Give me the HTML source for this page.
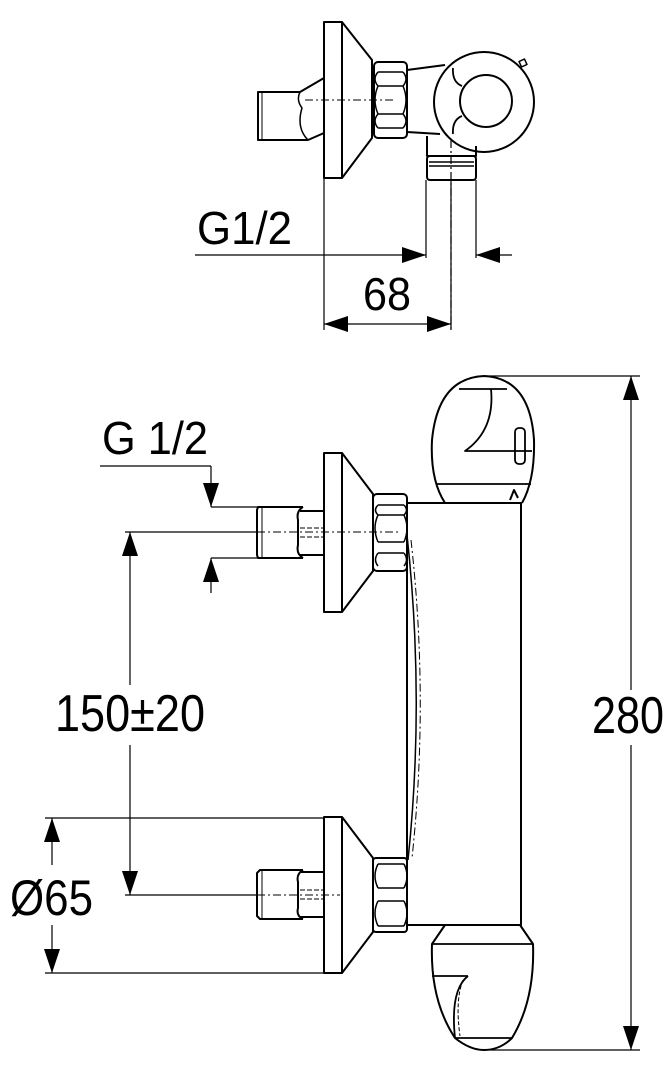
<!DOCTYPE html>
<html><head><meta charset="utf-8"><style>
html,body{margin:0;padding:0;background:#fff;}
svg{display:block;}
text{font-family:"Liberation Sans",Arial,sans-serif;fill:#000;}
</style></head><body>
<svg width="671" height="1080" viewBox="0 0 671 1080" xmlns="http://www.w3.org/2000/svg">
<defs>
<marker id="a" viewBox="0 0 24 16" refX="24" refY="8" markerWidth="24" markerHeight="16" orient="auto-start-reverse" markerUnits="userSpaceOnUse"><path d="M0,0 L24,8 L0,16 Z" fill="#000"/></marker>
</defs>
<g fill="none" stroke="#000" stroke-width="2" stroke-linejoin="round">
<rect x="324" y="22" width="18" height="156"/>
<path d="M342,22 L372,60 L372,138 L342,178"/>
<line x1="342" y1="22" x2="342" y2="178" stroke-width="1" stroke-dasharray="8,3,2,3"/>
<path d="M324,78 L300,92 L258,92 L258,140 L308,140 L324,133"/>
<line x1="262" y1="92" x2="262" y2="140" stroke-width="1"/>
<path d="M300,92 Q296,100 302,108 Q296,128 308,140" stroke-width="1.5"/>
<line x1="305" y1="100" x2="395" y2="100" stroke-width="1" stroke-dasharray="8,3,2,3"/>
<rect x="374" y="62" width="33" height="76" rx="4"/>
<path d="M378,72 L403,72 M378,86 L403,86 M378,114 L403,114 M378,128 L403,128 M378,72 Q372,79 378,86 M403,72 Q409,79 403,86 M378,86 Q372,100 378,114 M403,86 Q409,100 403,114 M378,114 Q372,121 378,128 M403,114 Q409,121 403,128" stroke-width="1.5"/>
<path d="M407,70 L445,65 M407,132 L440,134"/>
<circle cx="484" cy="102" r="50"/>
<circle cx="486" cy="101" r="26"/>
<path d="M453,68 Q452,82 462,86 M453,134 Q452,120 462,116" stroke-width="1.8"/>
<rect x="520" y="60" width="6" height="6" stroke-width="1.5" transform="rotate(-25 523 63)"/>
<path d="M427,136 L427,156 L476,156 L476,146"/>
<rect x="427" y="156" width="49" height="24" rx="3"/>
<line x1="429" y1="162" x2="474" y2="162" stroke-width="1.5"/>
<line x1="429" y1="166" x2="474" y2="166" stroke-width="1.5"/>
<g stroke-width="1.2">
<line x1="324" y1="178" x2="324" y2="330"/>
<line x1="426" y1="180" x2="426" y2="258"/>
<line x1="476" y1="180" x2="476" y2="258"/>
<line x1="451" y1="140" x2="451" y2="330" stroke-dasharray="8,3,2,3"/>
<line x1="451" y1="180" x2="451" y2="330"/>
<line x1="195" y1="255" x2="426" y2="255" marker-end="url(#a)"/>
<line x1="512" y1="255" x2="476" y2="255" marker-end="url(#a)"/>
<line x1="324" y1="324" x2="451" y2="324" marker-start="url(#a)" marker-end="url(#a)"/>
</g>
<rect x="407" y="503" width="114" height="422"/>
<path d="M445,503 Q430,480 432,440 Q438,378 484,376 Q530,378 534,440 Q535,480 522,503"/>
<line x1="436" y1="484" x2="531" y2="484" stroke-width="1.8"/>
<line x1="459" y1="389" x2="507" y2="389" stroke-width="1.8"/>
<path d="M491,389 Q495,430 465,451 L532,451" stroke-width="1.8"/>
<rect x="515" y="428" width="10" height="36" rx="4" stroke-width="1.8"/>
<path d="M510,500 L514,490 L518,498" stroke-width="2"/>
<path d="M445,925 L432,944 Q430,1000 455,1038 Q470,1050 484,1050 Q500,1050 512,1038 Q535,1000 533,944 L520,925"/>
<line x1="432" y1="944" x2="533" y2="944" stroke-width="1.8"/>
<line x1="432" y1="976" x2="468" y2="976" stroke-width="1.8"/>
<path d="M468,976 Q450,990 455,1038" stroke-width="1.8"/>
<path d="M463,980 Q455,1000 460,1036" stroke-width="1" stroke-dasharray="4,2"/>
<line x1="455" y1="1038" x2="512" y2="1038" stroke-width="1.8"/>
<path d="M407,535 Q425,700 408,860" stroke-width="1.5"/>
<path d="M411,540 Q429,700 412,858" stroke-width="1" stroke-dasharray="8,3,2,3"/>
<rect x="324" y="453" width="18" height="159"/>
<path d="M342,453 L373,494 L373,571 L342,612"/>
<line x1="342" y1="453" x2="342" y2="612" stroke-width="1" stroke-dasharray="8,3,2,3"/>
<rect x="373" y="494" width="34" height="77" rx="4"/>
<path d="M378,505 L404,505 M378,515 L404,515 M378,542 L404,542 M378,553 L404,553 M378,505 Q373,510 378,515 M404,505 Q409,510 404,515 M378,515 Q372,528 378,542 M404,515 Q410,528 404,542 M378,553 Q373,560 378,566 M404,553 Q409,560 404,566" stroke-width="1.5"/>
<path d="M303,507 L258,507 L257,510 L257,555 L258,558 L303,558"/>
<line x1="262" y1="508" x2="262" y2="557" stroke-width="1"/>
<path d="M303,507 Q296,511 298,520 L298,545 Q296,554 303,558 M300,511 L324,511 M300,555 L324,555"/>
<line x1="300" y1="528" x2="324" y2="528" stroke-width="1" stroke-dasharray="5,2"/>
<line x1="300" y1="537" x2="324" y2="537" stroke-width="1" stroke-dasharray="5,2"/>
<rect x="324" y="817" width="18" height="156"/>
<path d="M342,817 L373,858 L373,932 L342,973"/>
<line x1="342" y1="817" x2="342" y2="973" stroke-width="1" stroke-dasharray="8,3,2,3"/>
<rect x="373" y="858" width="34" height="74" rx="3"/>
<path d="M378,864 L404,864 M378,888 L404,888 M378,901 L404,901 M378,926 L404,926 M378,864 Q372,876 378,888 M404,864 Q410,876 404,888 M378,901 Q372,913 378,926 M404,901 Q410,913 404,926" stroke-width="1.5"/>
<path d="M303,870 L260,870 L257,873 L257,916 L260,919 L303,919"/>
<line x1="262" y1="871" x2="262" y2="918" stroke-width="1"/>
<path d="M303,870 Q296,874 298,882 L298,908 Q296,916 303,919 M300,872 L324,872 M300,917 L324,917"/>
<line x1="300" y1="890" x2="324" y2="890" stroke-width="1" stroke-dasharray="5,2"/>
<line x1="300" y1="899" x2="324" y2="899" stroke-width="1" stroke-dasharray="5,2"/>
<g stroke-width="1.2">
<line x1="100" y1="466" x2="211" y2="466"/>
<line x1="211" y1="466" x2="211" y2="507" marker-end="url(#a)"/>
<line x1="211" y1="507" x2="257" y2="507"/>
<line x1="211" y1="593" x2="211" y2="558" marker-end="url(#a)"/>
<line x1="211" y1="558" x2="257" y2="558"/>
<line x1="125" y1="532" x2="257" y2="532"/>
<line x1="257" y1="532" x2="400" y2="532" stroke-width="1" stroke-dasharray="8,3,2,3"/>
<line x1="125" y1="895" x2="257" y2="895"/>
<line x1="257" y1="895" x2="340" y2="895" stroke-width="1" stroke-dasharray="8,3,2,3"/>
<line x1="130" y1="685" x2="130" y2="532" marker-end="url(#a)"/>
<line x1="130" y1="745" x2="130" y2="895" marker-end="url(#a)"/>
<line x1="45" y1="818" x2="324" y2="818"/>
<line x1="45" y1="973" x2="324" y2="973"/>
<line x1="52" y1="865" x2="52" y2="818" marker-end="url(#a)"/>
<line x1="52" y1="925" x2="52" y2="973" marker-end="url(#a)"/>
<line x1="484" y1="376" x2="640" y2="376"/>
<line x1="484" y1="1050" x2="640" y2="1050"/>
<line x1="631" y1="690" x2="631" y2="376" marker-end="url(#a)"/>
<line x1="631" y1="745" x2="631" y2="1050" marker-end="url(#a)"/>
</g>
</g>
<text x="197" y="244" font-size="46" textLength="95" lengthAdjust="spacingAndGlyphs">G1/2</text>
<text x="363" y="310" font-size="46" textLength="48" lengthAdjust="spacingAndGlyphs">68</text>
<text x="102" y="454" font-size="46" textLength="106" lengthAdjust="spacingAndGlyphs">G 1/2</text>
<text x="55" y="731" font-size="52" textLength="150" lengthAdjust="spacingAndGlyphs">150±20</text>
<text x="10" y="915" font-size="50" textLength="83" lengthAdjust="spacingAndGlyphs">Ø65</text>
<text x="592" y="733" font-size="52" textLength="72" lengthAdjust="spacingAndGlyphs">280</text>
</svg>
</body></html>
